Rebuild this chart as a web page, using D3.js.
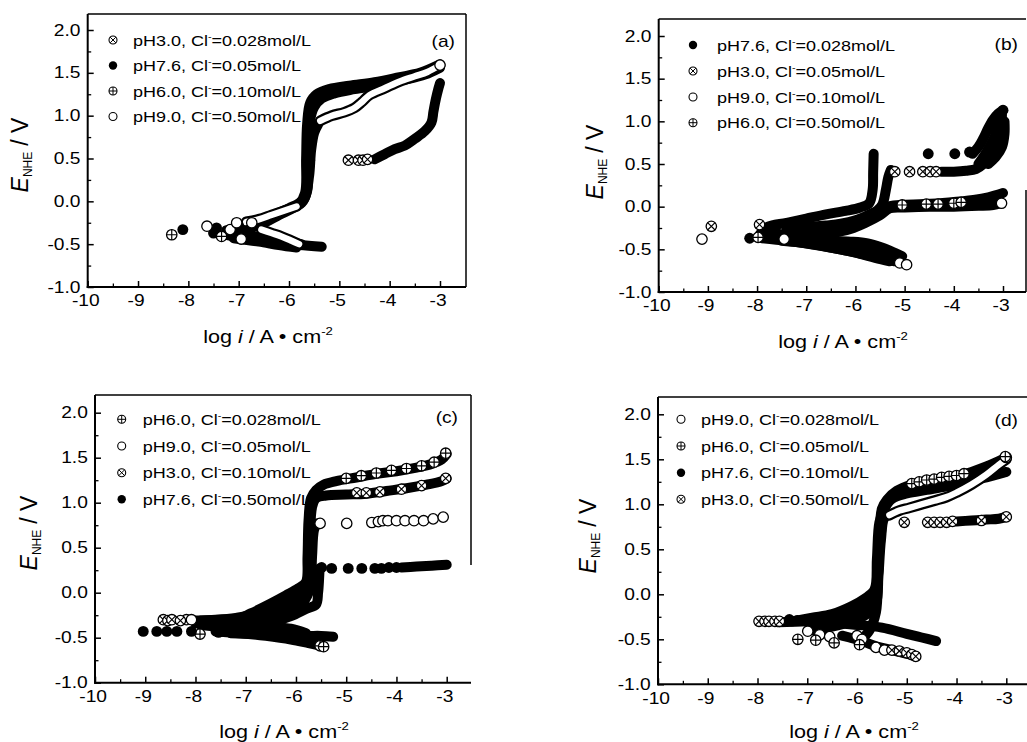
<!DOCTYPE html>
<html>
<head>
<meta charset="utf-8">
<script src="https://cdn.jsdelivr.net/npm/d3@7"></script>
<style>
  html, body { margin: 0; padding: 0; background: #fff; }
  svg { display: block; }
</style>
</head>
<body>
<svg id="chart" width="1027" height="742"></svg>
<script>
// ---------- axis ticks ----------
const X_TICKS = [-10, -9, -8, -7, -6, -5, -4, -3];
const X_MINOR = [-9.5, -8.5, -7.5, -6.5, -5.5, -4.5, -3.5];
const Y_TICKS = [-1.0, -0.5, 0.0, 0.5, 1.0, 1.5, 2.0];
const Y_MINOR = [-0.75, -0.25, 0.25, 0.75, 1.25, 1.75];

// ---------- legend content ----------
const CL_LEVELS = ["0.028", "0.05", "0.10", "0.50"];
const PH_A = ["pH3.0", "pH7.6", "pH6.0", "pH9.0"];
const PH_B = ["pH7.6", "pH3.0", "pH9.0", "pH6.0"];
const PH_C = ["pH6.0", "pH9.0", "pH3.0", "pH7.6"];
const PH_D = ["pH9.0", "pH6.0", "pH7.6", "pH3.0"];
const SYM_A = ["otimes", "filled", "oplus", "open"];
const SYM_B = ["filled", "otimes", "open", "oplus"];
const SYM_C = ["oplus", "open", "otimes", "filled"];
const SYM_D = ["open", "oplus", "filled", "otimes"];

// ---------- polarization data: [log i (A/cm2), E_NHE (V)] ----------
// runs: densely sampled stretches, tubes: dense stretches of open symbols,
// dots: individually resolved measurement points

// (a) pH3.0, 0.028 mol/L
const A_PH30 = {
  runs: [
    [[-7.1, -0.37], [-6.6, -0.42], [-6.1, -0.47], [-5.75, -0.50]],
    [[-7.1, -0.33], [-6.6, -0.23], [-6.1, -0.11], [-5.75, -0.02], [-5.64, 0.12], [-5.62, 0.32], [-5.58, 0.48]],
    [[-4.3, 0.49], [-4.1, 0.55], [-3.9, 0.61], [-3.7, 0.65], [-3.5, 0.73], [-3.3, 0.82], [-3.17, 0.92], [-3.13, 1.05], [-3.08, 1.2], [-3.03, 1.32], [-3.0, 1.38]]
  ],
  tubes: [],
  dots: [[-4.82, 0.48], [-4.62, 0.48], [-4.53, 0.48], [-4.44, 0.49]]
};
// (a) pH7.6, 0.05 mol/L
const A_PH76 = {
  runs: [
    [[-7.25, -0.39], [-6.8, -0.44], [-6.3, -0.48], [-5.8, -0.51], [-5.35, -0.53]],
    [[-7.25, -0.34], [-6.8, -0.27], [-6.4, -0.18], [-6.0, -0.08], [-5.72, 0.02], [-5.64, 0.2], [-5.62, 0.55], [-5.58, 0.95], [-5.5, 1.1], [-5.35, 1.2], [-5.1, 1.26], [-4.7, 1.31], [-4.2, 1.36], [-3.7, 1.42], [-3.3, 1.48], [-3.0, 1.56]]
  ],
  tubes: [],
  dots: [[-8.11, -0.33], [-7.44, -0.31], [-7.5, -0.37]]
};
// (a) pH6.0, 0.10 mol/L
const A_PH60 = {
  runs: [
    [[-7.1, -0.43], [-6.6, -0.47], [-6.2, -0.51], [-5.85, -0.54]],
    [[-7.1, -0.37], [-6.6, -0.28], [-6.2, -0.16], [-5.8, -0.03], [-5.68, 0.1], [-5.66, 0.5], [-5.64, 0.9], [-5.58, 1.15], [-5.45, 1.25], [-5.2, 1.31], [-4.8, 1.35], [-4.3, 1.39], [-3.8, 1.45], [-3.4, 1.5], [-3.0, 1.6]]
  ],
  tubes: [],
  dots: [[-8.33, -0.39], [-7.34, -0.41]]
};
// (a) pH9.0, 0.50 mol/L
const A_PH90 = {
  runs: [
    [[-5.82, -0.05], [-5.68, 0.05], [-5.6, 0.3], [-5.56, 0.6], [-5.5, 0.8], [-5.42, 0.9]]
  ],
  tubes: [
    [[-6.85, -0.24], [-6.6, -0.21], [-6.35, -0.16], [-6.1, -0.11], [-5.85, -0.06]],
    [[-6.55, -0.33], [-6.35, -0.37], [-6.15, -0.41], [-5.95, -0.46], [-5.8, -0.5]],
    [[-5.38, 0.94], [-5.15, 1.0], [-4.9, 1.04], [-4.7, 1.09], [-4.55, 1.16], [-4.4, 1.24], [-4.1, 1.32], [-3.8, 1.4], [-3.5, 1.46], [-3.25, 1.51], [-3.0, 1.59]]
  ],
  dots: [[-7.63, -0.29], [-7.17, -0.33], [-7.04, -0.25], [-6.74, -0.25], [-6.95, -0.44], [-3.0, 1.59]]
};

// (b) pH7.6, 0.028 mol/L
const B_PH76 = {
  runs: [
    [[-7.95, -0.33], [-7.8, -0.24], [-7.4, -0.19], [-7.0, -0.14], [-6.6, -0.09], [-6.2, -0.05], [-5.9, -0.01], [-5.72, 0.04], [-5.65, 0.2], [-5.64, 0.4], [-5.63, 0.62]],
    [[-7.6, -0.38], [-7.1, -0.39], [-6.6, -0.40], [-6.1, -0.41], [-5.75, -0.43], [-5.45, -0.48], [-5.2, -0.54], [-5.05, -0.58]],
    [[-3.62, 0.62], [-3.5, 0.7], [-3.4, 0.8], [-3.3, 0.92], [-3.2, 1.02], [-3.1, 1.09], [-3.0, 1.13]],
    [[-3.5, 0.5], [-3.38, 0.6], [-3.26, 0.72], [-3.15, 0.85], [-3.07, 0.97], [-3.02, 1.07]],
    [[-3.3, 0.5], [-3.15, 0.58], [-3.02, 0.7], [-2.97, 0.85], [-2.97, 1.0]]
  ],
  tubes: [],
  dots: [[-8.15, -0.37], [-7.6, -0.35], [-7.35, -0.37], [-4.52, 0.62], [-3.98, 0.62], [-3.68, 0.64], [-3.0, 1.13]]
};
// (b) pH3.0, 0.05 mol/L
const B_PH30 = {
  runs: [
    [[-7.4, -0.27], [-7.0, -0.24], [-6.6, -0.22], [-6.3, -0.2], [-6.0, -0.16], [-5.75, -0.1], [-5.55, -0.04], [-5.45, 0.03], [-5.38, 0.2], [-5.33, 0.35], [-5.28, 0.43]],
    [[-7.9, -0.25], [-7.5, -0.33], [-7.0, -0.39], [-6.5, -0.44], [-6.0, -0.49], [-5.6, -0.54], [-5.3, -0.59]],
    [[-4.25, 0.41], [-4.0, 0.41], [-3.75, 0.42], [-3.55, 0.44], [-3.4, 0.5], [-3.25, 0.6], [-3.12, 0.72], [-3.03, 0.85], [-3.0, 0.98]]
  ],
  tubes: [],
  dots: [[-8.93, -0.23], [-7.95, -0.21], [-5.2, 0.41], [-4.9, 0.41], [-4.63, 0.41], [-4.48, 0.41], [-4.36, 0.41]]
};
// (b) pH9.0, 0.10 mol/L
const B_PH90 = {
  runs: [
    [[-7.5, -0.4], [-7.0, -0.43], [-6.5, -0.48], [-6.0, -0.54], [-5.6, -0.6], [-5.3, -0.64]],
    [[-7.5, -0.37], [-7.0, -0.34], [-6.5, -0.31], [-6.1, -0.26], [-5.8, -0.19], [-5.5, -0.1], [-5.3, -0.02], [-5.0, -0.01], [-4.5, 0.0], [-4.0, 0.0], [-3.5, 0.01], [-3.2, 0.02], [-3.05, 0.04]]
  ],
  tubes: [],
  dots: [[-9.12, -0.38], [-7.45, -0.38], [-5.1, -0.66], [-4.96, -0.68], [-3.03, 0.04]]
};
// (b) pH6.0, 0.50 mol/L
const B_PH60 = {
  runs: [
    [[-7.9, -0.37], [-7.4, -0.4], [-6.9, -0.44], [-6.4, -0.49], [-5.9, -0.55], [-5.5, -0.6], [-5.2, -0.64]],
    [[-7.9, -0.36], [-7.4, -0.32], [-6.9, -0.29], [-6.5, -0.26], [-6.1, -0.21], [-5.8, -0.15], [-5.55, -0.07], [-5.35, 0.0], [-5.1, 0.02], [-4.6, 0.03], [-4.1, 0.05], [-3.6, 0.08], [-3.3, 0.11], [-3.0, 0.16]]
  ],
  tubes: [],
  dots: [[-7.98, -0.36], [-5.05, 0.02], [-4.56, 0.03], [-4.32, 0.03], [-4.0, 0.04], [-3.85, 0.05]]
};

// (c) pH6.0, 0.028 mol/L
const C_PH60 = {
  runs: [
    [[-7.6, -0.43], [-7.1, -0.45], [-6.6, -0.48], [-6.1, -0.52], [-5.75, -0.56], [-5.5, -0.59]],
    [[-7.6, -0.33], [-7.2, -0.3], [-6.9, -0.23], [-6.5, -0.12], [-6.2, -0.03], [-5.95, 0.05], [-5.8, 0.12], [-5.77, 0.4], [-5.75, 0.8], [-5.7, 1.05], [-5.6, 1.14], [-5.45, 1.2], [-5.2, 1.24], [-4.8, 1.28], [-4.4, 1.32], [-4.0, 1.35], [-3.6, 1.39], [-3.3, 1.43], [-3.1, 1.48], [-3.0, 1.54]]
  ],
  tubes: [],
  dots: [[-7.91, -0.46], [-5.52, -0.59], [-5.45, -0.6], [-5.0, 1.27], [-4.7, 1.3], [-4.4, 1.33], [-4.1, 1.36], [-3.8, 1.38], [-3.5, 1.41], [-3.25, 1.45], [-3.02, 1.55]]
};
// (c) pH9.0, 0.05 mol/L
const C_PH90 = {
  runs: [
    [[-7.9, -0.36], [-7.3, -0.39], [-6.8, -0.41], [-6.4, -0.42], [-6.0, -0.46], [-5.7, -0.5]],
    [[-7.9, -0.31], [-7.4, -0.3], [-6.9, -0.29], [-6.5, -0.27], [-6.1, -0.2], [-5.85, -0.1], [-5.72, 0.05], [-5.68, 0.4], [-5.64, 0.7], [-5.58, 0.77]]
  ],
  tubes: [],
  dots: [[-8.18, -0.30], [-8.08, -0.30], [-5.52, 0.77], [-4.99, 0.77], [-4.49, 0.78], [-4.36, 0.79], [-4.27, 0.8], [-4.17, 0.8], [-4.0, 0.8], [-3.83, 0.8], [-3.65, 0.8], [-3.46, 0.8], [-3.27, 0.82], [-3.07, 0.84]]
};
// (c) pH3.0, 0.10 mol/L
const C_PH30 = {
  runs: [
    [[-8.0, -0.34], [-7.5, -0.36], [-7.0, -0.37], [-6.5, -0.38], [-6.1, -0.4], [-5.8, -0.45]],
    [[-8.0, -0.31], [-7.6, -0.3], [-7.2, -0.28], [-6.9, -0.25], [-6.5, -0.2], [-6.1, -0.1], [-5.85, 0.02], [-5.75, 0.2], [-5.72, 0.6], [-5.68, 0.95], [-5.6, 1.05], [-5.4, 1.08], [-5.0, 1.09], [-4.6, 1.1], [-4.2, 1.13], [-3.8, 1.16], [-3.4, 1.2], [-3.1, 1.24], [-3.0, 1.27]]
  ],
  tubes: [],
  dots: [[-8.64, -0.3], [-8.55, -0.31], [-8.47, -0.3], [-8.3, -0.31], [-4.79, 1.11], [-4.6, 1.11], [-4.33, 1.12], [-3.9, 1.15], [-3.5, 1.19], [-3.02, 1.27]]
};
// (c) pH7.6, 0.50 mol/L
const C_PH76 = {
  runs: [
    [[-7.3, -0.45], [-6.8, -0.46], [-6.3, -0.47], [-5.8, -0.48], [-5.5, -0.48], [-5.26, -0.49]],
    [[-7.3, -0.4], [-6.9, -0.37], [-6.5, -0.33], [-6.1, -0.26], [-5.8, -0.18], [-5.6, -0.13], [-5.56, 0.0], [-5.54, 0.15], [-5.53, 0.27]],
    [[-3.9, 0.28], [-3.6, 0.29], [-3.3, 0.3], [-3.0, 0.31]]
  ],
  tubes: [],
  dots: [[-9.04, -0.43], [-8.77, -0.43], [-8.57, -0.43], [-8.37, -0.43], [-8.08, -0.43], [-7.54, -0.44], [-5.49, 0.28], [-5.29, 0.27], [-4.96, 0.27], [-4.69, 0.27], [-4.43, 0.27], [-4.3, 0.27], [-4.15, 0.28], [-4.0, 0.28]]
};

// (d) pH9.0, 0.028 mol/L
const D_PH90 = {
  runs: [
    [[-6.9, -0.4], [-6.5, -0.36], [-6.1, -0.3], [-5.8, -0.22], [-5.62, -0.1], [-5.57, 0.2], [-5.52, 0.6], [-5.45, 0.85], [-5.35, 0.88]]
  ],
  tubes: [
    [[-5.35, 0.88], [-5.15, 0.93], [-4.95, 0.96], [-4.7, 1.0], [-4.45, 1.04], [-4.2, 1.08], [-4.0, 1.13], [-3.7, 1.22], [-3.4, 1.33], [-3.15, 1.44], [-3.0, 1.5]]
  ],
  dots: [[-6.99, -0.41], [-6.75, -0.45], [-6.55, -0.47], [-6.0, -0.46], [-5.9, -0.5], [-5.62, -0.59], [-5.45, -0.62], [-3.0, 1.52]]
};
// (d) pH6.0, 0.05 mol/L
const D_PH60 = {
  runs: [
    [[-5.95, -0.52], [-5.75, -0.4], [-5.62, -0.2], [-5.58, 0.2], [-5.55, 0.6], [-5.5, 0.95], [-5.4, 1.05], [-5.2, 1.15], [-4.9, 1.22], [-4.5, 1.27], [-4.1, 1.3], [-3.7, 1.36], [-3.4, 1.42], [-3.15, 1.48], [-3.0, 1.52]]
  ],
  tubes: [],
  dots: [[-7.19, -0.5], [-6.83, -0.51], [-6.46, -0.54], [-5.95, -0.56], [-4.9, 1.23], [-4.75, 1.25], [-4.6, 1.27], [-4.45, 1.28], [-4.3, 1.3], [-4.15, 1.31], [-4.0, 1.32], [-3.85, 1.34], [-3.02, 1.53]]
};
// (d) pH7.6, 0.10 mol/L
const D_PH76 = {
  runs: [
    [[-7.3, -0.3], [-6.9, -0.26], [-6.5, -0.22], [-6.1, -0.13], [-5.85, -0.05], [-5.65, 0.05], [-5.6, 0.4], [-5.55, 0.8], [-5.45, 0.95], [-5.3, 1.06], [-5.0, 1.12], [-4.6, 1.16], [-4.2, 1.2], [-3.8, 1.25], [-3.4, 1.3], [-3.0, 1.36]],
    [[-7.0, -0.31], [-6.5, -0.32], [-6.0, -0.34], [-5.5, -0.37], [-5.0, -0.44], [-4.7, -0.48], [-4.41, -0.52]]
  ],
  tubes: [],
  dots: [[-7.36, -0.28], [-7.2, -0.29]]
};
// (d) pH3.0, 0.50 mol/L
const D_PH30 = {
  runs: [
    [[-7.6, -0.31], [-7.0, -0.3], [-6.6, -0.27], [-6.2, -0.22], [-5.9, -0.15], [-5.7, -0.08], [-5.6, 0.1], [-5.55, 0.5], [-5.5, 0.78]],
    [[-6.3, -0.46], [-5.9, -0.52], [-5.6, -0.58], [-5.3, -0.62], [-5.0, -0.66], [-4.82, -0.69]],
    [[-4.0, 0.81], [-3.7, 0.82], [-3.4, 0.83], [-3.15, 0.84], [-3.0, 0.86]]
  ],
  tubes: [],
  dots: [[-7.97, -0.3], [-7.85, -0.3], [-7.77, -0.3], [-7.65, -0.3], [-7.56, -0.3], [-5.3, -0.62], [-5.15, -0.63], [-5.0, -0.65], [-4.9, -0.67], [-4.82, -0.69],
         [-5.05, 0.8], [-4.58, 0.8], [-4.45, 0.8], [-4.33, 0.8], [-4.2, 0.8], [-4.08, 0.81], [-3.5, 0.82], [-3.0, 0.86]]
};

// ---------- panel layout ----------
const PANELS = [
  { tag: "(a)", ph: PH_A, sym: SYM_A, series: [A_PH30, A_PH76, A_PH60, A_PH90],
    xL: 87.7, xR3: 440, xRight: 466, y2: 30, yB: 287, yTop: 14, rightSpan: [14, 287],
    legX: 113, legTX: 133, legY: [40, 65.5, 91, 116.5], tagX: 455, tagY: 47,
    xtX: 268, xtY: 343, ytX: 28, ytY: 155 },
  { tag: "(b)", ph: PH_B, sym: SYM_B, series: [B_PH76, B_PH30, B_PH90, B_PH60],
    xL: 658.7, xR3: 1003, xRight: 1026, y2: 36, yB: 292, yTop: 19, rightSpan: [190, 292],
    legX: 693, legTX: 717, legY: [45, 71, 97, 122.7], tagX: 1018, tagY: 50,
    xtX: 843, xtY: 348, ytX: 603, ytY: 162 },
  { tag: "(c)", ph: PH_C, sym: SYM_C, series: [C_PH60, C_PH90, C_PH30, C_PH76],
    xL: 95, xR3: 446.7, xRight: 471, y2: 412.7, yB: 682.7, yTop: 395, rightSpan: [395, 565],
    legX: 121.7, legTX: 142.7, legY: [419.3, 446, 472.7, 499.3], tagX: 458, tagY: 423,
    xtX: 284, xtY: 738, ytX: 36.7, ytY: 533 },
  { tag: "(d)", ph: PH_D, sym: SYM_D, series: [D_PH90, D_PH60, D_PH76, D_PH30],
    xL: 658, xR3: 1006.3, xRight: 1031, y2: 414.3, yB: 684.3, yTop: 397, rightSpan: null,
    legX: 681, legTX: 701, legY: [419.3, 446, 472.7, 499.3], tagX: 1018, tagY: 426,
    xtX: 854, xtY: 738, ytX: 596, ytY: 536 }
];

const FONT = "'Liberation Sans', Arial, Helvetica, sans-serif";
const SX = 1.2;          // horizontal stretch of the lettering
const BAND = 10;         // width of a dense run of symbols
const R = 5.2;           // data symbol radius
const R_LEG = 4;         // legend symbol radius

const svg = d3.select("#chart");
svg.append("rect").attr("width", 1027).attr("height", 742).attr("fill", "#fff");

function drawSymbol(g, type, cx, cy, r, sw) {
  const s = g.append("g").attr("transform", `translate(${cx},${cy})`);
  if (type === "filled") {
    s.append("circle").attr("r", r * 1.05).attr("fill", "#000");
    return;
  }
  s.append("circle").attr("r", r).attr("fill", "#fff").attr("stroke", "#000").attr("stroke-width", sw);
  if (type === "oplus") {
    s.append("path").attr("d", `M${-r},0H${r}M0,${-r}V${r}`).attr("stroke", "#000").attr("stroke-width", sw * 0.9);
  } else if (type === "otimes") {
    const k = r * 0.72;
    s.append("path").attr("d", `M${-k},${-k}L${k},${k}M${-k},${k}L${k},${-k}`).attr("stroke", "#000").attr("stroke-width", sw * 0.9);
  }
}

function drawPanel(p) {
  const x = d3.scaleLinear().domain([-10, -3]).range([p.xL, p.xR3]);
  const y = d3.scaleLinear().domain([-1, 2]).range([p.yB, p.y2]);
  const g = svg.append("g");
  const line = d3.line().x(d => x(d[0])).y(d => y(d[1])).curve(d3.curveCatmullRom.alpha(0.5));

  const marks = g.append("g");
  // dense stretches
  p.series.forEach(s => s.runs.forEach(r => {
    marks.append("path").attr("d", line(r)).attr("fill", "none")
      .attr("stroke", "#000").attr("stroke-width", BAND)
      .attr("stroke-linecap", "round").attr("stroke-linejoin", "round");
  }));
  // dense stretches of open symbols
  p.series.forEach(s => s.tubes.forEach(r => {
    marks.append("path").attr("d", line(r)).attr("fill", "none")
      .attr("stroke", "#000").attr("stroke-width", BAND + 0.8)
      .attr("stroke-linecap", "round").attr("stroke-linejoin", "round");
    marks.append("path").attr("d", line(r)).attr("fill", "none")
      .attr("stroke", "#fff").attr("stroke-width", BAND - 3.6)
      .attr("stroke-linecap", "round").attr("stroke-linejoin", "round");
  }));
  // individual points
  p.series.forEach((s, i) => s.dots.forEach(d => drawSymbol(marks, p.sym[i], x(d[0]), y(d[1]), R, 1.3)));

  // frame
  const fr = g.append("g").attr("stroke", "#000").attr("fill", "none");
  fr.append("line").attr("x1", p.xL).attr("x2", p.xL).attr("y1", p.yTop).attr("y2", p.yB + 1).attr("stroke-width", 2);
  fr.append("line").attr("x1", p.xL - 1).attr("x2", p.xRight).attr("y1", p.yB).attr("y2", p.yB).attr("stroke-width", 2);
  fr.append("line").attr("x1", p.xL).attr("x2", p.xRight).attr("y1", p.yTop).attr("y2", p.yTop).attr("stroke-width", 1.5);
  if (p.rightSpan) {
    fr.append("line").attr("x1", p.xRight).attr("x2", p.xRight).attr("y1", p.rightSpan[0]).attr("y2", p.rightSpan[1]).attr("stroke-width", 1.5);
  }

  // axes with inward ticks
  const gx = g.append("g").attr("transform", `translate(0,${p.yB})`)
    .call(d3.axisBottom(x).tickValues(X_TICKS).tickSize(-6).tickSizeOuter(0).tickPadding(8).tickFormat(d => String(d)));
  gx.select(".domain").remove();
  gx.selectAll("line").attr("stroke-width", 1.5);
  gx.selectAll("text").attr("font-size", 16).attr("font-family", FONT).attr("fill", "#000")
    .attr("dx", -2).attr("transform", `scale(${SX},1)`);
  const gxm = g.append("g").attr("transform", `translate(0,${p.yB})`)
    .call(d3.axisBottom(x).tickValues(X_MINOR).tickSize(-3.5).tickSizeOuter(0).tickFormat(""));
  gxm.select(".domain").remove();
  gxm.selectAll("line").attr("stroke-width", 1.3);

  const gy = g.append("g").attr("transform", `translate(${p.xL},0)`)
    .call(d3.axisLeft(y).tickValues(Y_TICKS).tickSize(-6).tickSizeOuter(0).tickPadding(6).tickFormat(d => d.toFixed(1)));
  gy.select(".domain").remove();
  gy.selectAll("line").attr("stroke-width", 1.5);
  gy.selectAll("text").attr("font-size", 16).attr("font-family", FONT).attr("fill", "#000")
    .attr("transform", `scale(${SX},1)`);
  const gym = g.append("g").attr("transform", `translate(${p.xL},0)`)
    .call(d3.axisLeft(y).tickValues(Y_MINOR).tickSize(-3.5).tickSizeOuter(0).tickFormat(""));
  gym.select(".domain").remove();
  gym.selectAll("line").attr("stroke-width", 1.3);

  // axis titles
  const xt = g.append("text").attr("transform", `translate(${p.xtX},${p.xtY}) scale(${SX},1)`)
    .attr("text-anchor", "middle").attr("font-size", 18).attr("font-family", FONT);
  xt.append("tspan").text("log ");
  xt.append("tspan").attr("font-style", "italic").text("i");
  xt.append("tspan").text(" / A \u2022 cm");
  xt.append("tspan").attr("font-size", 11).attr("dy", -8).text("-2");

  const yt = g.append("text").attr("transform", `translate(${p.ytX},${p.ytY}) rotate(-90)`)
    .attr("text-anchor", "middle").attr("font-size", 23).attr("font-family", FONT);
  yt.append("tspan").attr("font-style", "italic").text("E");
  yt.append("tspan").attr("font-size", 12).attr("dy", 4).text("NHE");
  yt.append("tspan").attr("dy", -4).attr("dx", 6).text("/ V");

  // panel tag
  g.append("text").attr("transform", `translate(${p.tagX},${p.tagY}) scale(${SX},1)`)
    .attr("text-anchor", "end").attr("font-size", 16).attr("font-family", FONT).text(p.tag);

  // legend
  p.ph.forEach((ph, i) => {
    const cy = p.legY[i];
    drawSymbol(g, p.sym[i], p.legX, cy, R_LEG, 1.1);
    const t = g.append("text").attr("transform", `translate(${p.legTX},${cy + 5.5}) scale(${SX},1)`)
      .attr("font-size", 15).attr("font-family", FONT);
    t.append("tspan").text(ph + ", Cl");
    t.append("tspan").attr("font-size", 9).attr("dy", -6).text("-");
    t.append("tspan").attr("dy", 6).text("=" + CL_LEVELS[i] + "mol/L");
  });
}

PANELS.forEach(drawPanel);
</script>
</body>
</html>
